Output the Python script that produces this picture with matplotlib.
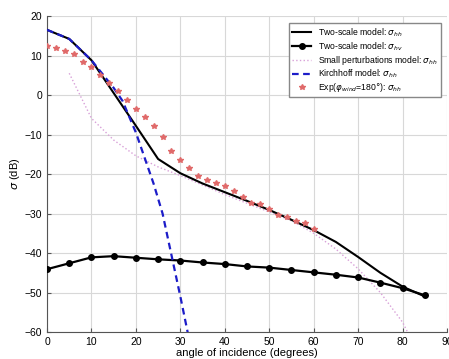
import numpy as np
import matplotlib
matplotlib.use('Agg')
import matplotlib.pyplot as plt

plt.rcParams['font.family'] = ['Liberation Sans', 'DejaVu Sans']

# two-scale model, hh
angHh = [0, 5, 10, 15, 20, 25, 30, 35, 40, 45, 50, 55, 60, 65, 70, 75, 80, 85]
sigHh = [16.5, 14.2, 8.8, 0.5, -7.8, -16.2, -19.8, -22.4, -24.6, -26.8, -29.1,
         -31.6, -34.2, -37.2, -41.0, -45.0, -48.5, -51.0]

# two-scale model, hv
angHv = [0, 5, 10, 15, 20, 25, 30, 35, 40, 45, 50, 55, 60, 65, 70, 75, 80, 85]
sigHv = [-44.1, -42.6, -41.1, -40.8, -41.2, -41.6, -41.9, -42.4, -42.8, -43.4,
         -43.7, -44.3, -44.9, -45.5, -46.2, -47.5, -48.9, -50.7]

# small perturbations model, hh
angSpm = [5, 10, 15, 20, 25, 30, 35, 40, 45, 50, 55, 60, 65, 70, 75, 80, 82]
sigSpm = [5.5, -5.9, -11.4, -15.4, -18.2, -20.4, -22.8, -25.2, -27.4, -29.6,
          -31.8, -35.0, -39.0, -44.0, -50.0, -57.5, -62.0]

# Kirchhoff model, hh
angKa = [0, 5, 10, 15, 17, 20, 22, 24, 26, 28, 30, 32]
sigKa = [16.5, 14.2, 8.8, 1.8, -1.5, -9.5, -16.0, -22.5, -30.0, -40.5, -51.0, -62.0]

# measurements
angExp = list(range(0, 61, 2))
sigExp = [12.4, 12.0, 11.2, 10.5, 8.4, 7.1, 5.1, 3.1, 0.9, -1.2, -3.5, -5.5,
          -7.8, -10.7, -14.3, -16.5, -18.6, -20.5, -21.6, -22.2, -23.1, -24.3,
          -25.7, -27.4, -27.7, -28.9, -30.4, -30.8, -31.8, -32.3, -33.8]

fig = plt.figure(figsize=(4.49, 3.59), dpi=100)
ax = fig.add_axes([0.1047, 0.0752, 0.8908, 0.8802])

ax.plot(angHh, sigHh, color='black', lw=1.5, label=r'Two-scale model: $\sigma_{hh}$', zorder=4)
ax.plot(angHv, sigHv, color='black', lw=1.6, marker='o', ms=4,
        label=r'Two-scale model: $\sigma_{hv}$', zorder=4)
ax.plot(angSpm, sigSpm, color='#d8a0d8', lw=1.0, ls=':',
        label=r'Small perturbations model: $\sigma_{hh}$', zorder=3)
ax.plot(angKa, sigKa, color='#1c1cc8', lw=1.6, ls=(0, (3, 2)),
        label=r'Kirchhoff model: $\sigma_{hh}$', zorder=5)
ax.plot(angExp, sigExp, ls='none', marker='*', ms=4, color='#e06a6a',
        label=r'Exp($\varphi_{wind}$=180$\degree$): $\sigma_{hh}$', zorder=6)

ax.set_xlim(0, 90)
ax.set_ylim(-60, 20)
ax.set_xticks(np.arange(0, 91, 10))
ax.set_yticks(np.arange(-60, 21, 10))
ax.grid(True, color='#d8d8d8', lw=0.8)
ax.tick_params(direction='in', labelsize=7.5, length=3, color='#555555')
for s in ['top', 'right']:
    ax.spines[s].set_visible(False)
for s in ['left', 'bottom']:
    ax.spines[s].set_color('#555555')

ax.set_xlabel('angle of incidence (degrees)', fontsize=8, labelpad=1)
ax.set_ylabel(r'$\sigma$ (dB)', fontsize=8, labelpad=2)

leg = ax.legend(loc='upper right', fontsize=6.2, fancybox=False, framealpha=1,
                edgecolor='#888888', handlelength=2.2, borderpad=0.35,
                labelspacing=0.12, bbox_to_anchor=(0.995, 0.99))

fig.savefig('out.png', dpi=100)
